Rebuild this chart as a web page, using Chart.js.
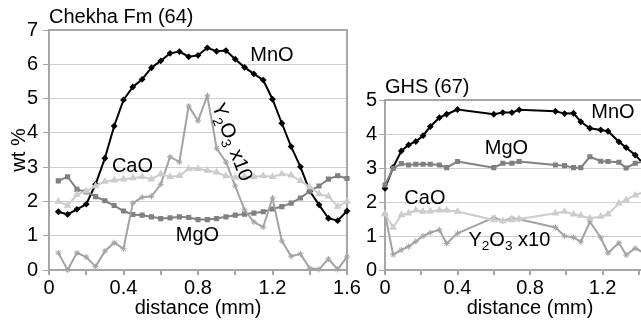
<!DOCTYPE html>
<html>
<head>
    <title>Chekha Fm (64) / GHS (67)</title>
    <script src="https://cdn.jsdelivr.net/npm/chart.js"></script>
    <style>
        body { margin: 0; width: 641px; height: 323px; overflow: hidden; background: #fff; position: relative; }
        .chart-box { position: absolute; top: 0; height: 323px; }
        #leftBox { left: 0; width: 365px; }
        #rightBox { left: 330px; width: 360px; }
    </style>
</head>
<body>
    <div class="chart-box" id="leftBox"><canvas id="chekhaChart"></canvas></div>
    <div class="chart-box" id="rightBox"><canvas id="ghsChart"></canvas></div>

    <script>
        // Chekha Fm (64) - distance (mm) and wt %
        const chekhaDist = [0.05, 0.10, 0.15, 0.20, 0.25, 0.30, 0.35, 0.40, 0.45, 0.50, 0.55, 0.60, 0.65, 0.70, 0.75, 0.80,
                            0.85, 0.90, 0.95, 1.00, 1.05, 1.10, 1.15, 1.20, 1.25, 1.30, 1.35, 1.40, 1.45, 1.50, 1.55, 1.60];
        const chekhaMnO = [1.70, 1.62, 1.77, 1.92, 2.50, 3.26, 4.20, 4.96, 5.34, 5.56, 5.90, 6.10, 6.32, 6.37, 6.22, 6.26,
                           6.48, 6.38, 6.40, 6.15, 5.91, 5.72, 5.54, 4.98, 4.28, 3.60, 3.01, 2.30, 1.90, 1.51, 1.44, 1.72];
        const chekhaCaO = [2.00, 1.88, 2.20, 2.30, 2.45, 2.58, 2.62, 2.65, 2.68, 2.72, 2.65, 2.80, 2.72, 2.75, 2.95, 2.95,
                           2.90, 2.85, 2.74, 2.70, 2.72, 2.72, 2.75, 2.72, 2.80, 2.76, 2.60, 2.42, 2.22, 2.15, 1.85, 2.00];
        const chekhaMgO = [2.60, 2.72, 2.35, 2.28, 2.14, 2.02, 1.88, 1.72, 1.62, 1.60, 1.55, 1.50, 1.52, 1.55, 1.53, 1.47,
                           1.47, 1.50, 1.55, 1.60, 1.63, 1.66, 1.70, 1.78, 1.85, 1.95, 2.10, 2.30, 2.45, 2.65, 2.75, 2.67];
        const chekhaY2O3 = [0.50, 0.00, 0.50, 0.38, 0.10, 0.55, 0.80, 0.62, 1.95, 2.12, 2.15, 2.50, 3.30, 3.15, 4.78, 4.35,
                            5.08, 3.55, 3.15, 2.45, 1.75, 1.40, 1.25, 2.10, 0.85, 0.40, 0.47, 0.05, 0.02, 0.32, 0.02, 0.38];

        // GHS (67)
        const ghsDist = [0, 0.045, 0.09, 0.13, 0.17, 0.21, 0.25, 0.30, 0.34, 0.40, 0.60, 0.65, 0.70, 0.74,
                         0.94, 0.99, 1.04, 1.08, 1.13, 1.19, 1.23, 1.29, 1.33, 1.38, 1.43];
        const ghsMnO = [2.40, 3.02, 3.50, 3.68, 3.78, 3.95, 4.22, 4.48, 4.58, 4.72, 4.58, 4.63, 4.63, 4.71,
                        4.67, 4.60, 4.61, 4.36, 4.17, 4.12, 4.08, 3.77, 3.60, 3.38, 3.10];
        const ghsMgO = [2.50, 2.99, 3.13, 3.09, 3.11, 3.11, 3.11, 3.09, 3.01, 3.19, 3.01, 3.14, 3.14, 3.19,
                        3.09, 3.07, 3.01, 3.01, 3.33, 3.20, 3.19, 3.17, 3.00, 3.14, 3.20];
        const ghsCaO = [1.65, 1.25, 1.62, 1.67, 1.76, 1.72, 1.73, 1.76, 1.76, 1.72, 1.47, 1.44, 1.47, 1.50,
                        1.67, 1.72, 1.64, 1.60, 1.52, 1.57, 1.64, 1.96, 2.06, 2.20, 2.30];
        const ghsY2O3 = [1.65, 0.45, 0.59, 0.69, 0.84, 1.00, 1.10, 1.18, 0.78, 1.08, 1.54, 1.44, 1.52, 1.49,
                         1.25, 1.00, 0.96, 0.83, 1.42, 0.95, 0.50, 0.80, 0.44, 0.64, 0.50];

        // ticks
        const xTicks = [0, 0.2, 0.4, 0.6, 0.8, 1.0, 1.2, 1.4, 1.6];
        const xLabels = [0, 0.4, 0.8, 1.2, 1.6];
        const yTicksChekha = [0, 1, 2, 3, 4, 5, 6, 7];
        const yTicksGhs = [0, 1, 2, 3, 4, 5];

        const FONT = '"Liberation Sans", Arial, sans-serif';
        Chart.defaults.font.family = FONT;
        Chart.defaults.color = '#000';

        const AXIS_GRAY = '#a6a6a6';
        const GRID_GRAY = '#cfcfcf';

        // series text parts: [text, isSubscript]
        const Y2O3_TEXT = [['Y', 0], ['2', 1], ['O', 0], ['3', 1], [' x10', 0]];

        function toPoints(xs, ys) {
            return xs.map((x, i) => ({ x: x, y: ys[i] }));
        }

        function makeDatasets(dist, mno, mgo, cao, y2o3) {
            return [
                { label: 'CaO', data: toPoints(dist, cao), borderColor: '#cccccc', backgroundColor: '#cccccc',
                  pointStyle: 'triangle', pointRadius: 2.5, borderWidth: 2, clip: false },
                { label: 'Y2O3 x10', data: toPoints(dist, y2o3), borderColor: '#a3a3a3', backgroundColor: '#a3a3a3',
                  pointStyle: 'star', pointRadius: 3, pointBorderWidth: 1, borderWidth: 2, clip: false },
                { label: 'MgO', data: toPoints(dist, mgo), borderColor: '#808080', backgroundColor: '#808080',
                  pointStyle: 'rect', pointRadius: 2.2, borderWidth: 2, clip: false },
                { label: 'MnO', data: toPoints(dist, mno), borderColor: '#000', backgroundColor: '#000',
                  pointStyle: 'rectRot', pointRadius: 2, borderWidth: 2, clip: false }
            ];
        }

        function drawRich(ctx, parts, size) {
            let w = 0;
            parts.forEach(([t, sub]) => {
                ctx.font = (sub ? size * 0.68 : size) + 'px ' + FONT;
                w += ctx.measureText(t).width;
            });
            let x = -w / 2;
            parts.forEach(([t, sub]) => {
                ctx.font = (sub ? size * 0.68 : size) + 'px ' + FONT;
                ctx.fillText(t, x, sub ? size * 0.32 : 0);
                x += ctx.measureText(t).width;
            });
        }

        // frame, panel title and in-plot series labels
        const panelPlugin = {
            id: 'panel',
            beforeDatasetsDraw(chart, args, opts) {
                const a = chart.chartArea;
                const ctx = chart.ctx;
                ctx.save();
                ctx.strokeStyle = AXIS_GRAY;
                ctx.lineWidth = 2;
                ctx.strokeRect(a.left, a.top, a.right - a.left, a.bottom - a.top);
                ctx.restore();
            },
            afterDatasetsDraw(chart, args, opts) {
                const a = chart.chartArea;
                const ctx = chart.ctx;
                const xs = chart.scales.x, ys = chart.scales.y;
                ctx.save();
                ctx.fillStyle = '#000';
                ctx.font = '20px ' + FONT;
                ctx.textAlign = 'left';
                ctx.textBaseline = 'alphabetic';
                ctx.fillText(opts.title, a.left, a.top - 7);
                ctx.textBaseline = 'middle';
                opts.labels.forEach(l => {
                    ctx.save();
                    ctx.translate(xs.getPixelForValue(l.x), ys.getPixelForValue(l.y));
                    ctx.rotate((l.rotate || 0) * Math.PI / 180);
                    drawRich(ctx, l.parts, 20);
                    ctx.restore();
                });
                ctx.restore();
            }
        };

        function makeOptions(yMax, yTicks, yWidth, padding, showYTitle, title, labels) {
            return {
                responsive: true,
                maintainAspectRatio: false,
                animation: false,
                layout: { padding: padding },
                plugins: {
                    legend: { display: false },
                    tooltip: { enabled: false },
                    panel: { title: title, labels: labels }
                },
                scales: {
                    x: {
                        type: 'linear',
                        min: 0,
                        max: 1.6,
                        afterBuildTicks: s => { s.ticks = xTicks.map(v => ({ value: v })); },
                        afterFit: s => { s.height = 53; },
                        ticks: {
                            autoSkip: false,
                            maxRotation: 0,
                            padding: 1,
                            font: { size: 20 },
                            callback: v => xLabels.some(l => Math.abs(l - v) < 1e-6) ? String(v) : ''
                        },
                        grid: { drawOnChartArea: false, tickLength: 5, tickColor: AXIS_GRAY, lineWidth: 2 },
                        border: { display: false },
                        title: { display: true, text: 'distance (mm)', font: { size: 20 }, padding: { top: 0, bottom: 3 } }
                    },
                    y: {
                        min: 0,
                        max: yMax,
                        afterBuildTicks: s => { s.ticks = yTicks.map(v => ({ value: v })); },
                        afterFit: s => { s.width = yWidth; },
                        ticks: { padding: showYTitle ? 5 : 2, font: { size: 20 } },
                        grid: { color: GRID_GRAY, lineWidth: 1, tickLength: 6, tickColor: AXIS_GRAY },
                        border: { display: false },
                        title: { display: showYTitle, text: 'wt %', font: { size: 20 }, padding: { top: 7, bottom: 0 } }
                    }
                }
            };
        }

        new Chart(document.getElementById('chekhaChart'), {
            type: 'line',
            data: { datasets: makeDatasets(chekhaDist, chekhaMnO, chekhaMgO, chekhaCaO, chekhaY2O3) },
            options: makeOptions(7, yTicksChekha, 49, { top: 30, right: 18, left: 0, bottom: 0 }, true, 'Chekha Fm (64)', [
                { parts: [['MnO', 0]], x: 1.197, y: 6.27 },
                { parts: [['CaO', 0]], x: 0.448, y: 3.03 },
                { parts: [['MgO', 0]], x: 0.797, y: 1.0 },
                { parts: Y2O3_TEXT, x: 0.98, y: 3.73, rotate: 69 }
            ]),
            plugins: [panelPlugin]
        });

        new Chart(document.getElementById('ghsChart'), {
            type: 'line',
            data: { datasets: makeDatasets(ghsDist, ghsMnO, ghsMgO, ghsCaO, ghsY2O3) },
            options: makeOptions(5, yTicksGhs, 55, { top: 100, right: 9, left: 0, bottom: 0 }, false, 'GHS (67)', [
                { parts: [['MnO', 0]], x: 1.257, y: 4.63 },
                { parts: [['MgO', 0]], x: 0.67, y: 3.56 },
                { parts: [['CaO', 0]], x: 0.22, y: 2.11 },
                { parts: Y2O3_TEXT, x: 0.686, y: 0.88 }
            ]),
            plugins: [panelPlugin]
        });
    </script>
</body>
</html>
